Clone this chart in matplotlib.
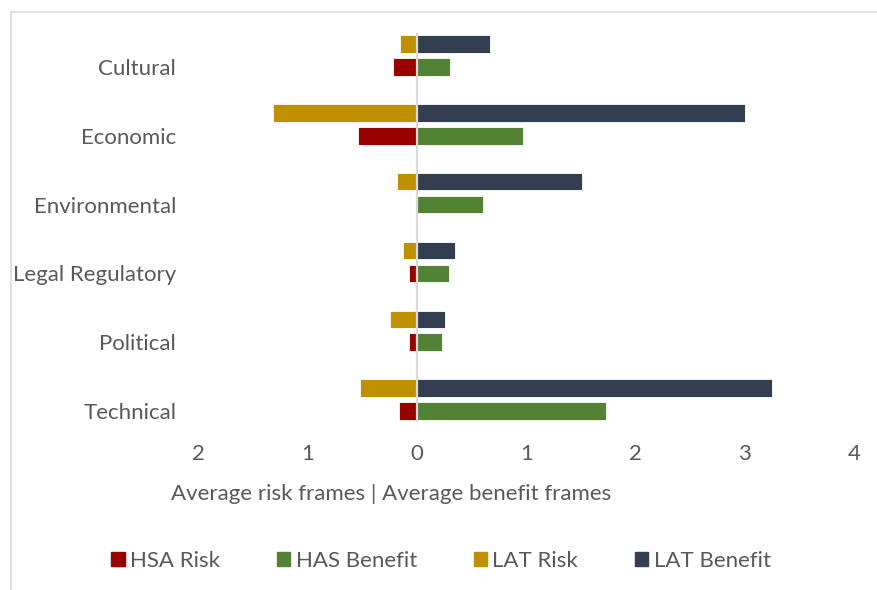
#!/usr/bin/env python3
"""Diverging bar chart of average risk and benefit frames per category."""
import matplotlib
matplotlib.use("Agg")
import matplotlib.pyplot as plt
import matplotlib.patches as mpatches
from matplotlib.ticker import FixedLocator, FixedFormatter

categories = ["Cultural", "Economic", "Environmental", "Legal Regulatory",
              "Political", "Technical"]
# average frames per article; risk values are drawn to the left of zero
hsa_risk = [0.22, 0.54, 0.01, 0.07, 0.07, 0.165]
has_benefit = [0.30, 0.97, 0.60, 0.29, 0.23, 1.73]
lat_risk = [0.155, 1.315, 0.185, 0.13, 0.245, 0.52]
lat_benefit = [0.67, 3.00, 1.51, 0.35, 0.26, 3.25]

x_ticks = [-2, -1, 0, 1, 2, 3, 4]
x_tick_labels = ["2", "1", "0", "1", "2", "3", "4"]

series_names = ["HSA Risk", "HAS Benefit", "LAT Risk", "LAT Benefit"]
colors = ["#990000", "#548235", "#bf9000", "#333f50"]
text_grey = "#595959"


def draw_chart():
    plt.rcParams["font.family"] = ["Lato", "DejaVu Sans"]
    fig = plt.figure(figsize=(8.77, 5.90), dpi=100)
    ax = fig.add_axes([0.2262, 0.2847, 0.7478, 0.6593])

    rows = list(range(len(categories)))
    upper = [r - 0.334 for r in rows]
    height = 0.254
    edge = dict(edgecolor="white", linewidth=0.6)

    ax.barh(rows, [-v for v in hsa_risk], height=height, color=colors[0], **edge)
    ax.barh(rows, has_benefit, height=height, color=colors[1], **edge)
    ax.barh(upper, [-v for v in lat_risk], height=height, color=colors[2], **edge)
    ax.barh(upper, lat_benefit, height=height, color=colors[3], **edge)

    ax.axvline(0, color="#d9d9d9", linewidth=1.6, zorder=5)

    ax.set_xlim(-2, 4)
    ax.set_ylim(5.16, -0.494)
    ax.xaxis.set_major_locator(FixedLocator(x_ticks))
    ax.xaxis.set_major_formatter(FixedFormatter(x_tick_labels))
    ax.set_yticks(rows)
    ax.set_yticklabels(categories)
    ax.tick_params(axis="x", length=0, pad=16, labelsize=16, labelcolor=text_grey)
    ax.tick_params(axis="y", length=0, pad=16, labelsize=16, labelcolor=text_grey)
    for spine in ax.spines.values():
        spine.set_visible(False)

    fig.text(391 / 877, 1 - 494 / 590,
             "Average risk frames | Average benefit frames",
             ha="center", va="center", fontsize=16, color=text_grey)

    handles = [mpatches.Patch(color=c, label=n)
               for c, n in zip(colors, series_names)]
    fig.legend(handles=handles, loc="center", ncol=4,
               bbox_to_anchor=(441 / 877, 1 - 561 / 590), frameon=False,
               fontsize=16, labelcolor=text_grey, handlelength=0.6,
               handleheight=0.6, handletextpad=0.25, columnspacing=2.55)

    # light frame around the chart area
    fig.add_artist(plt.Line2D([11 / 877, 11 / 877], [0, 1 - 12 / 590],
                              color="#d9d9d9", linewidth=1.2))
    fig.add_artist(plt.Line2D([11 / 877, 1], [1 - 12 / 590, 1 - 12 / 590],
                              color="#d9d9d9", linewidth=1.2))

    fig.savefig("out.png", dpi=100)
    plt.close(fig)


def main():
    draw_chart()


if __name__ == "__main__":
    main()
